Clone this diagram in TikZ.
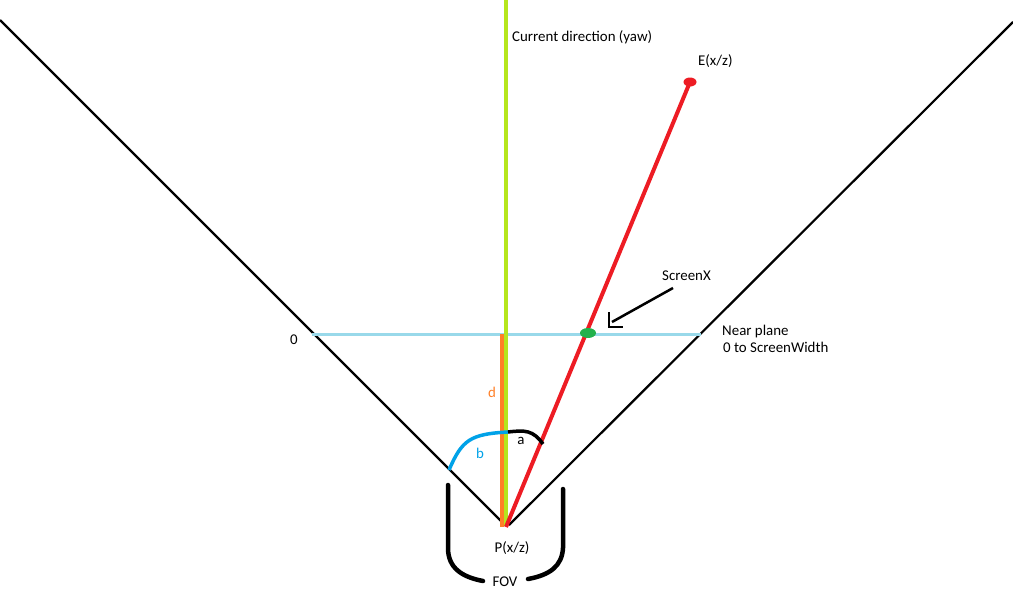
\documentclass[tikz,border=0pt]{standalone}
\usepackage{fontspec}
\setmainfont{Carlito}
\begin{document}
\begin{tikzpicture}[x=1pt,y=-1pt,
  lbl/.style={inner sep=0pt,font=\fontsize{14.9}{17}\selectfont},
  fovline/.style={line width=2.2pt,black},
  thick4/.style={line width=4pt},
  bracket/.style={line width=4.5pt,black,line cap=round}]
\definecolor{yawgreen}{HTML}{B5E61D}
\definecolor{dorange}{HTML}{FF7F27}
\definecolor{ered}{HTML}{ED1C24}
\definecolor{nearblue}{HTML}{99D9EA}
\definecolor{sgreen}{HTML}{22B14C}
\definecolor{bblue}{HTML}{00A2E8}
\useasboundingbox (0,0) rectangle (1013,595);
% coordinates
\coordinate (PL) at (505,525);
\coordinate (PR) at (509,525);
\coordinate (TL) at (0,20);
\coordinate (TR) at (1013,22);
\coordinate (NL) at (312,334);
\coordinate (NR) at (701,334);
\coordinate (Ytop) at (506,0);
\coordinate (Ybot) at (506,526);
\coordinate (Dtop) at (502,334);
\coordinate (Dbot) at (502,527);
\coordinate (Rstart) at (506,527);
\coordinate (E) at (690,82);
\coordinate (SX) at (588,333);
% FOV lines
\draw[fovline] (TL) -- (PL);
\draw[fovline] (PR) -- (TR);
% near plane
\draw[line width=3pt,nearblue] (NL) -- (NR);
% yaw line
\draw[thick4,yawgreen] (Ytop) -- (Ybot);
% d line
\draw[thick4,dorange] (Dtop) -- (Dbot);
% red line
\draw[thick4,ered] (Rstart) -- (E);
\fill[ered] (E) ellipse (6.5pt and 4.5pt);
\fill[sgreen] (SX) ellipse (8pt and 5pt);
% arrow to ScreenX
\coordinate (A1) at (673,288);
\coordinate (A2) at (612,322);
\coordinate (H1) at (609,312);
\coordinate (H2) at (609,327);
\coordinate (H3) at (623,327);
\draw[line width=2.5pt] (A1) -- (A2);
\draw[line width=2.5pt] (H1) -- (H2) -- (H3);
% arcs
\coordinate (B1) at (449,470);
\coordinate (B2) at (508,432);
\coordinate (A3) at (543,444);
\draw[line width=3.5pt,bblue] (B1) .. controls (462,440) and (470,434) .. (B2);
\draw[line width=3.5pt,black] (B2) .. controls (525,430) and (533,430) .. (A3);
% brackets
\coordinate (L1) at (448,485);
\coordinate (L2) at (483,581);
\coordinate (R1) at (563,489);
\coordinate (R2) at (528,579);
\draw[bracket] (L1) -- (448,548) .. controls (448,568) and (462,577) .. (L2);
\draw[bracket] (R1) -- (563,548) .. controls (562,566) and (550,575) .. (R2);
% labels
\node[lbl,anchor=west] (cur) at (512,37) {Current direction (yaw)};
\node[lbl,anchor=west] (elbl) at (698,61) {E(x/z)};
\node[lbl,anchor=west] (sxl) at (662,276) {ScreenX};
\node[lbl,anchor=west] (np1) at (722,332) {Near plane};
\node[lbl,anchor=west] (np2) at (723,347) {0 to ScreenWidth};
\node[lbl] (zero) at (294,340) {0};
\node[lbl,text=dorange] (dl) at (492,392) {d};
\node[lbl,text=bblue] (bl) at (480,453) {b};
\node[lbl] (al) at (521,441) {a};
\node[lbl] (pl) at (512,548) {P(x/z)};
\node[lbl] (fov) at (505,582) {FOV};
\end{tikzpicture}
\end{document}
